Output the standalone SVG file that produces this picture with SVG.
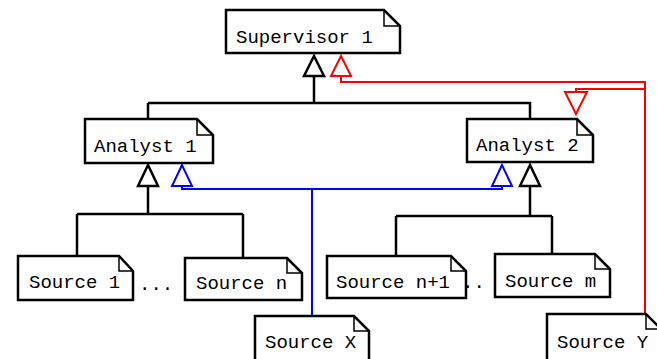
<svg xmlns="http://www.w3.org/2000/svg" width="657" height="359" viewBox="0 0 657 359">
<style>
.box{fill:#fff;stroke:#000;stroke-width:2.5;stroke-linejoin:miter}
.fold{fill:none;stroke:#000;stroke-width:1.5}
.t{font-family:"Liberation Mono","Courier New",monospace;font-size:19px;fill:#000}
.k{fill:none;stroke:#000;stroke-width:2.5}
.kt{fill:#fff;stroke:#000;stroke-width:2.5}
.b{fill:none;stroke:#0000ff;stroke-width:2}
.bt{fill:#fff;stroke:#0000ff;stroke-width:2}
.r{fill:none;stroke:#ff0000;stroke-width:2}
.rt{fill:#fff;stroke:#ff0000;stroke-width:2}
</style>
<rect width="657" height="359" fill="#fff"/>
<g id="connectors">
<path class="k" d="M314,76 V103 M148,103 H530 V119 M148,103 V119"/>
<path class="k" d="M148,186 V214 M77,214 H243 M77,214 V256 M243,214 V258"/>
<path class="k" d="M530,186 V216 M396,216 H552 M396,216 V256 M552,216 V254"/>
<polygon class="kt" points="314,56 304,76 324,76"/>
<polygon class="kt" points="148,165 138,186 158,186"/>
<polygon class="kt" points="530,165 520,186 540,186"/>
<path class="b" d="M182,186 V189 H502 V186 M312,189 V316"/>
<polygon class="bt" points="182,165 172,186 192,186"/>
<polygon class="bt" points="502,165 492,186 512,186"/>
<path class="r" d="M341,76 V82 H645 V314 M645,89 H576 V92"/>
<polygon class="rt" points="341,56 331,76 351,76"/>
<polygon class="rt" points="565,92 587,92 576,114"/>
</g>
<g id="supervisor1">
<path class="box" d="M226,10 H384 L400,26 V53 H226 Z"/><path class="fold" d="M384,10 V26 H400"/>
<text class="t" x="236" y="43">Supervisor 1</text>
</g>
<g id="analyst1">
<path class="box" d="M85,119 H197 L213,135 V163 H85 Z"/><path class="fold" d="M197,119 V135 H213"/>
<text class="t" x="94" y="152">Analyst 1</text>
</g>
<g id="analyst2">
<path class="box" d="M467,119 H577 L593,135 V162 H467 Z"/><path class="fold" d="M577,119 V135 H593"/>
<text class="t" x="476" y="151">Analyst 2</text>
</g>
<g id="source1">
<path class="box" d="M18,256 H119 L133,271 V300 H18 Z"/><path class="fold" d="M119,256 V271 H133"/>
<text class="t" x="29" y="288">Source 1</text>
</g>
<text class="t" x="139" y="290">...</text>
<g id="sourcen">
<path class="box" d="M185,258 H287 L302,273 V300 H185 Z"/><path class="fold" d="M287,258 V273 H302"/>
<text class="t" x="196" y="289">Source n</text>
</g>
<g id="sourcen1">
<path class="box" d="M327,256 H451 L466,271 V298 H327 Z"/><path class="fold" d="M451,256 V271 H466"/>
<text class="t" x="336" y="288">Source n+1</text>
</g>
<text class="t" x="462" y="288">..</text>
<g id="sourcem">
<path class="box" d="M495,254 H595 L610,269 V297 H495 Z"/><path class="fold" d="M595,254 V269 H610"/>
<text class="t" x="505" y="287">Source m</text>
</g>
<g id="sourceX">
<path class="box" d="M255,316 H354 L369,331 V370 H255 Z"/><path class="fold" d="M354,316 V331 H369"/>
<text class="t" x="265" y="348">Source X</text>
</g>
<g id="sourceY">
<path class="box" d="M547,314 H646 L661,329 V370 H547 Z"/><path class="fold" d="M646,314 V329 H661"/>
<text class="t" x="557" y="348">Source Y</text>
</g>
</svg>
